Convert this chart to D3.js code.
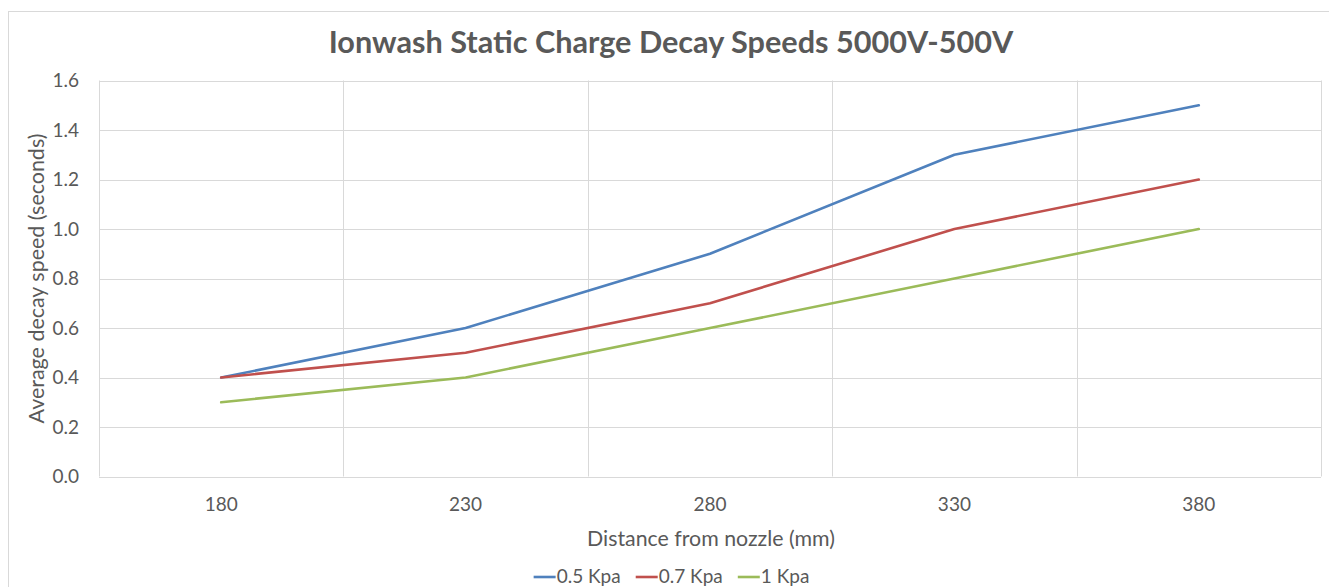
<!DOCTYPE html>
<html>
<head>
<meta charset="utf-8">
<script src="https://cdn.jsdelivr.net/npm/d3@7/dist/d3.min.js"></script>
<style>
  html, body { margin: 0; padding: 0; background: #ffffff; }
  svg { display: block; }
  text { font-family: Lato, "Open Sans", sans-serif; fill: #595959; }
</style>
</head>
<body>
<svg id="chart" width="1329" height="587"></svg>
<script>
// ---- data ----
const categories = ["180", "230", "280", "330", "380"];
const seriesNames = ["0.5 Kpa", "0.7 Kpa", "1 Kpa"];
const values05 = [0.4, 0.6, 0.9, 1.3, 1.5];
const values07 = [0.4, 0.5, 0.7, 1.0, 1.2];
const values10 = [0.3, 0.4, 0.6, 0.8, 1.0];
const yTicks = [0.0, 0.2, 0.4, 0.6, 0.8, 1.0, 1.2, 1.4, 1.6];
const chartTitle = "Ionwash Static Charge Decay Speeds 5000V-500V";
const xTitle = "Distance from nozzle (mm)";
const yTitle = "Average decay speed (seconds)";

const series = [
  { name: seriesNames[0], values: values05, color: "#4F81BD" },
  { name: seriesNames[1], values: values07, color: "#C0504D" },
  { name: seriesNames[2], values: values10, color: "#9BBB59" }
];

const svg = d3.select("#chart");
const plot = { left: 99, right: 1321, top: 80.5, bottom: 476.5 };
const grid = "#d9d9d9";
const tickFont = 19;

// outer chart border
svg.append("rect")
  .attr("x", 8.5).attr("y", 11.5)
  .attr("width", 1340).attr("height", 600)
  .attr("fill", "#fff").attr("stroke", grid).attr("stroke-width", 1);

const x = d3.scaleBand().domain(categories).range([plot.left, plot.right]).padding(0);
const y = d3.scaleLinear().domain([0, 1.6]).range([plot.bottom, plot.top]);

// horizontal gridlines
svg.append("g").selectAll("line").data(yTicks).join("line")
  .attr("x1", plot.left).attr("x2", plot.right)
  .attr("y1", d => Math.round(y(d)) + 0.5).attr("y2", d => Math.round(y(d)) + 0.5)
  .attr("stroke", grid).attr("stroke-width", 1);

// vertical gridlines at category boundaries
const bounds = categories.map(c => x(c)).concat([x(categories[categories.length - 1]) + x.bandwidth()]);
svg.append("g").selectAll("line").data(bounds).join("line")
  .attr("x1", d => Math.round(d) + 0.5).attr("x2", d => Math.round(d) + 0.5)
  .attr("y1", plot.top).attr("y2", plot.bottom)
  .attr("stroke", grid).attr("stroke-width", 1);

// y tick labels
svg.append("g").selectAll("text").data(yTicks).join("text")
  .attr("x", 79).attr("y", d => y(d))
  .attr("dy", "0.36em")
  .attr("text-anchor", "end")
  .style("font-size", tickFont + "px")
  .text(d => d.toFixed(1));

// x tick labels
svg.append("g").selectAll("text").data(categories).join("text")
  .attr("x", d => x(d) + x.bandwidth() / 2).attr("y", 511)
  .attr("text-anchor", "middle")
  .style("font-size", tickFont + "px")
  .text(d => d);

// lines
const line = d3.line()
  .x((d, i) => x(categories[i]) + x.bandwidth() / 2)
  .y(d => y(d));
svg.append("g").selectAll("path").data(series).join("path")
  .attr("d", s => line(s.values))
  .attr("fill", "none")
  .attr("stroke", s => s.color)
  .attr("stroke-width", 2.6)
  .attr("stroke-linejoin", "round")
  .attr("stroke-linecap", "round");

// helper to fit text to a measured width
function fitWidth(sel, target) {
  const node = sel.node();
  const fs = parseFloat(sel.style("font-size"));
  const w = node.getComputedTextLength();
  if (w > 0) sel.style("font-size", (fs * target / w) + "px");
}

// title
const t = svg.append("text")
  .attr("x", 671).attr("y", 52.5)
  .attr("text-anchor", "middle")
  .style("font-size", "30px").style("font-weight", "bold")
  .text(chartTitle);
fitWidth(t, 685);

// x axis title
const xt = svg.append("text")
  .attr("x", 711).attr("y", 546)
  .attr("text-anchor", "middle")
  .style("font-size", "19px")
  .text(xTitle);
fitWidth(xt, 248);

// y axis title
const yt = svg.append("text")
  .attr("transform", "translate(44," + ((plot.top + plot.bottom) / 2) + ") rotate(-90)")
  .attr("text-anchor", "middle")
  .style("font-size", "19px")
  .text(yTitle);
fitWidth(yt, 290);

// legend
const legend = svg.append("g");
let cursor = 0;
series.forEach((s, i) => {
  const g = legend.append("g");
  g.append("line").attr("x1", cursor).attr("x2", cursor + 22)
    .attr("y1", 577).attr("y2", 577)
    .attr("stroke", s.color).attr("stroke-width", 2.6);
  const tx = g.append("text").attr("x", cursor + 23).attr("y", 583)
    .style("font-size", tickFont + "px").text(s.name);
  cursor += 23 + tx.node().getComputedTextLength() + 15;
});
const totalW = cursor - 15;
legend.attr("transform", "translate(" + (671.5 - totalW / 2) + ",0)");
</script>
</body>
</html>
